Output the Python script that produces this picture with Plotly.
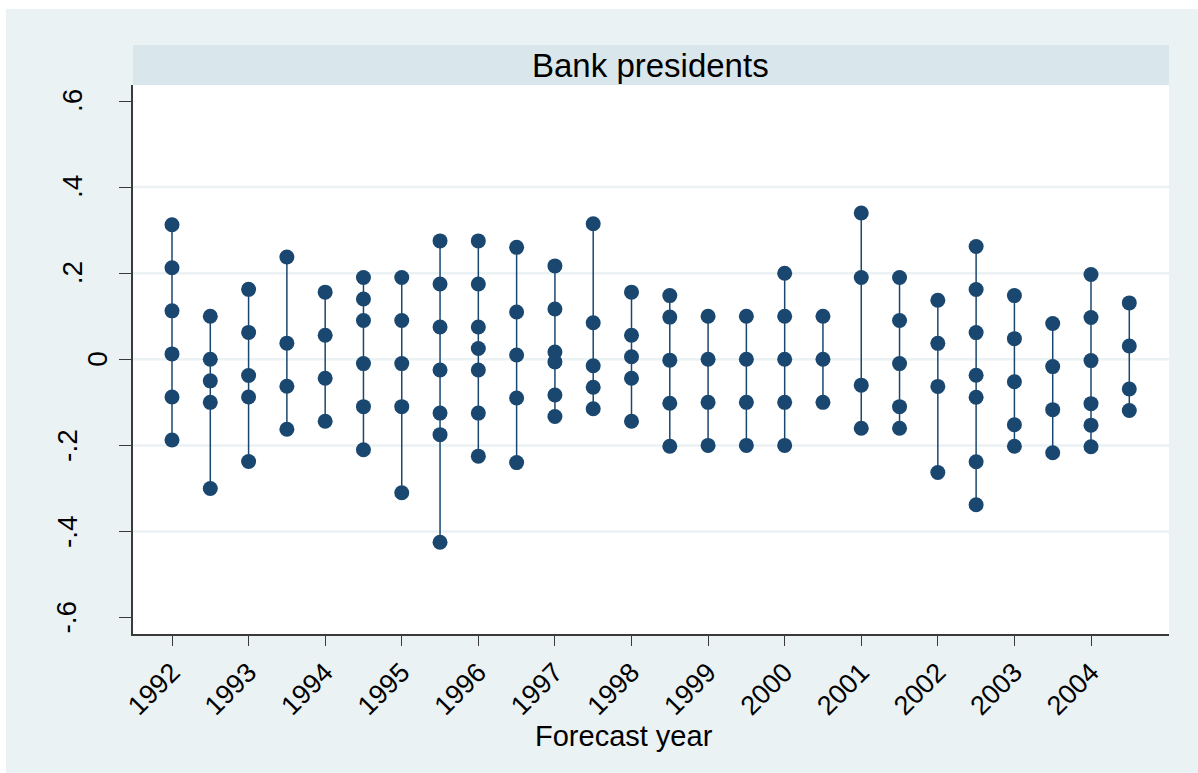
import plotly.graph_objects as go

# ---- data ----
forecast_year = [1992, 1992.5, 1993, 1993.5, 1994, 1994.5, 1995, 1995.5, 1996, 1996.5,
                 1997, 1997.5, 1998, 1998.5, 1999, 1999.5, 2000, 2000.5, 2001, 2001.5,
                 2002, 2002.5, 2003, 2003.5, 2004, 2004.5]
forecast_errors = [
    [0.3125, 0.2125, 0.1125, 0.0125, -0.0875, -0.1875],
    [0.1, 0.0, -0.05, -0.1, -0.3],
    [0.1625, 0.0625, -0.0375, -0.0875, -0.2375],
    [0.2375, 0.0375, -0.0625, -0.1625],
    [0.156, 0.056, -0.044, -0.144],
    [0.19, 0.14, 0.09, -0.01, -0.11, -0.21],
    [0.19, 0.09, -0.01, -0.11, -0.31],
    [0.275, 0.175, 0.075, -0.025, -0.125, -0.175, -0.425],
    [0.275, 0.175, 0.075, 0.025, -0.025, -0.125, -0.225],
    [0.26, 0.11, 0.01, -0.09, -0.24],
    [0.217, 0.117, 0.017, -0.006, -0.083, -0.133],
    [0.315, 0.085, -0.015, -0.065, -0.115],
    [0.156, 0.056, 0.006, -0.044, -0.144],
    [0.148, 0.098, -0.002, -0.102, -0.202],
    [0.1, 0.0, -0.1, -0.2],
    [0.1, 0.0, -0.1, -0.2],
    [0.2, 0.1, 0.0, -0.1, -0.2],
    [0.1, 0.0, -0.1],
    [0.34, 0.19, -0.06, -0.16],
    [0.19, 0.09, -0.01, -0.11, -0.16],
    [0.137, 0.037, -0.063, -0.263],
    [0.262, 0.162, 0.062, -0.037, -0.088, -0.238, -0.338],
    [0.148, 0.048, -0.052, -0.152, -0.202],
    [0.083, -0.017, -0.117, -0.217],
    [0.197, 0.097, -0.003, -0.103, -0.153, -0.203],
    [0.131, 0.031, -0.069, -0.119],
]
x_tick_vals = list(range(1992, 2005))
x_tick_text = [str(v) for v in x_tick_vals]
y_tick_vals = [0.6, 0.4, 0.2, 0.0, -0.2, -0.4, -0.6]
y_tick_text = ['.6', '.4', '.2', '0', '-.2', '-.4', '-.6']
y_grid_vals = [0.4, 0.2, 0.0, -0.2, -0.4]
panel_title = "Bank presidents"
x_title = "Forecast year"

# ---- styling ----
W, H = 1198, 773
L, R, T, B = 133, 1169, 85, 634
NAVY = "#1A476F"
PANEL = "#EAF2F3"
STRIP = "#D9E6EB"
AXIS = "#3a3a3a"
FONT = "Liberation Sans, Arial, Helvetica, sans-serif"


def px_x(p):
    return (p - L) / (R - L)


def px_y(p):
    return (B - p) / (B - T)


line_x, line_y = [], []
pt_x, pt_y = [], []
for xv, vals in zip(forecast_year, forecast_errors):
    line_x += [xv, xv, None]
    line_y += [max(vals), min(vals), None]
    pt_x += [xv] * len(vals)
    pt_y += vals

fig = go.Figure()
fig.add_trace(go.Scatter(x=line_x, y=line_y, mode="lines",
                         line=dict(color=NAVY, width=1.5), hoverinfo="skip",
                         showlegend=False))
fig.add_trace(go.Scatter(x=pt_x, y=pt_y, mode="markers",
                         marker=dict(color=NAVY, size=15, line=dict(width=0)),
                         showlegend=False))

shapes = []
# white page strips around the panel
shapes.append(dict(type="rect", xref="paper", yref="paper", x0=px_x(0), x1=px_x(W),
                   y0=px_y(9), y1=px_y(0), fillcolor="white", line=dict(width=0), layer="above"))
shapes.append(dict(type="rect", xref="paper", yref="paper", x0=px_x(0), x1=px_x(6),
                   y0=px_y(H), y1=px_y(0), fillcolor="white", line=dict(width=0), layer="above"))
# strip header
shapes.append(dict(type="rect", xref="paper", yref="paper", x0=px_x(L), x1=px_x(R),
                   y0=px_y(T), y1=px_y(45), fillcolor=STRIP, line=dict(width=0), layer="above"))
# grid lines
for g in y_grid_vals:
    shapes.append(dict(type="line", xref="paper", yref="y", x0=0, x1=1, y0=g, y1=g,
                       line=dict(color=PANEL, width=2.5), layer="below"))

annotations = []
annotations.append(dict(text=panel_title, xref="paper", yref="paper", x=px_x(650), y=px_y(65),
                        xanchor="center", yanchor="middle", showarrow=False,
                        font=dict(family=FONT, size=33, color="black")))
annotations.append(dict(text=x_title, xref="paper", yref="paper", x=px_x(624), y=px_y(736),
                        xanchor="center", yanchor="middle", showarrow=False,
                        font=dict(family=FONT, size=29, color="black")))
label_cx = {'.6': 72, '.4': 72, '.2': 72, '0': 97.5, '-.2': 67.5, '-.4': 67.5, '-.6': 67}
for v, t in zip(y_tick_vals, y_tick_text):
    annotations.append(dict(text=t, xref="paper", yref="y", x=px_x(label_cx[t]), y=v,
                            xanchor="center", yanchor="middle", textangle=-90, showarrow=False,
                            font=dict(family=FONT, size=28, color="black")))

fig.update_layout(
    width=W, height=H,
    margin=dict(l=L, r=W - R, t=T, b=H - B, pad=0),
    paper_bgcolor=PANEL, plot_bgcolor="white",
    font=dict(family=FONT, color="black"),
    shapes=shapes, annotations=annotations,
    xaxis=dict(range=[1992 - (172 - L) / 76.58, 2004 + (R - 1091) / 76.58],
               tickmode="array", tickvals=x_tick_vals, ticktext=x_tick_text,
               tickangle=-45, ticks="outside", ticklen=10, tickwidth=1.3, tickcolor=AXIS,
               tickfont=dict(family=FONT, size=27, color="black"),
               showline=True, linecolor=AXIS, linewidth=1.6, showgrid=False, zeroline=False,
               fixedrange=True),
    yaxis=dict(range=[-(B - 359.3) / 430.5, (359.3 - T) / 430.5],
               tickmode="array", tickvals=y_tick_vals, ticktext=y_tick_text,
               showticklabels=False, ticks="outside", ticklen=12, tickwidth=1.3, tickcolor=AXIS,
               showline=True, linecolor=AXIS, linewidth=1.6, showgrid=False, zeroline=False,
               fixedrange=True),
    showlegend=False,
)

fig.write_html("out.html")
